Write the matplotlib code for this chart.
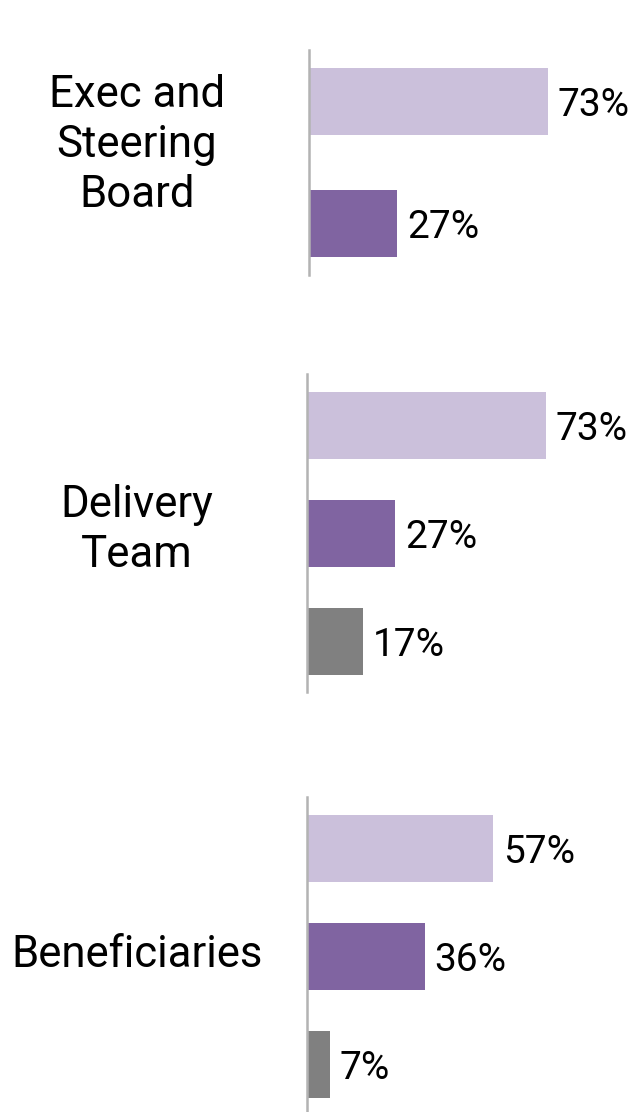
import matplotlib
matplotlib.use("Agg")
import matplotlib.pyplot as plt

# data
groups = ["Exec and\nSteering\nBoard", "Delivery\nTeam", "Beneficiaries"]
values = [
    [73, 27],
    [73, 27, 17],
    [57, 36, 7],
]
colors = ["#CBC0DB", "#8064A1", "#808080"]

W, H = 638, 1112
fig = plt.figure(figsize=(W / 100, H / 100), dpi=100)
plt.rcParams['font.family'] = ['Roboto', 'DejaVu Sans']

PX_PER_PCT = 3.27

# layout in pixels: (left, top, bottom, pixels per bar slot, label y-centre)
layout = [
    (309, 50, 275, 122, 145),
    (307, 374, 692, 108, 530),
    (307, 797, 1116, 108, 955),
]

for name, vals, (left, top, bottom, slot, ylab) in zip(groups, values, layout):
    ax = fig.add_axes([left / W, 1 - bottom / H, (W - left) / W, (bottom - top) / H])
    n = len(vals)
    pos = list(range(n))
    ax.barh(pos, vals, height=67 / slot, color=colors[:n], edgecolor='none')
    edge = (bottom - top - (n - 1) * slot) / 2 / slot
    ax.set_ylim(n - 1 + edge, -edge)
    ax.set_xlim(0, (W - left) / PX_PER_PCT)
    for p, v in zip(pos, vals):
        ax.text(v + 3, p, f"{v}%", va='center_baseline', ha='left', fontsize=28, color='black')
    for s in ['top', 'right', 'bottom']:
        ax.spines[s].set_visible(False)
    ax.spines['left'].set_color('#B3B3B3')
    ax.spines['left'].set_linewidth(1.8)
    ax.set_xticks([])
    ax.set_yticks([])
    ax.patch.set_alpha(0)

    fig.text(137 / W, 1 - ylab / H, name, ha='center', va='center', fontsize=31.5,
             linespacing=1.25, color='black')

fig.savefig("out.png", dpi=100)
